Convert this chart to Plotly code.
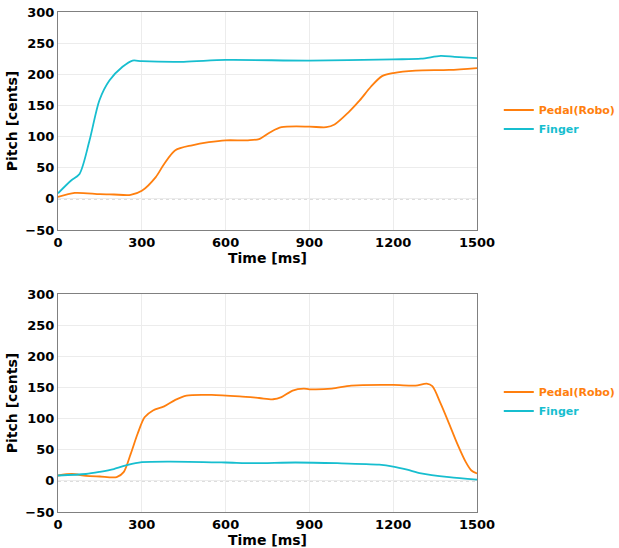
import plotly.graph_objects as go

ORANGE = "#ff7f0e"
CYAN = "#17becf"

# Top panel
top_pedal_t = [0, 60, 150, 200, 260, 300, 350, 380, 420, 480, 540, 600, 680, 720, 760, 800, 900, 960, 990, 1040, 1080, 1120, 1160, 1200, 1280, 1400, 1500]
top_pedal_v = [3, 9.6, 7.5, 7, 6.4, 13, 35, 56, 78, 86, 91, 94, 94, 96, 107, 115, 116, 115, 119.5, 139, 158, 180, 197, 202, 206, 207, 210]
top_finger_t = [0, 47, 77, 113, 148, 184, 231, 267, 300, 450, 600, 900, 1200, 1300, 1370, 1420, 1500]
top_finger_v = [9, 29.5, 40, 94, 158, 190, 212, 222, 221, 220, 223, 222, 224, 225, 229.5, 228, 226]

# Bottom panel
bot_pedal_t = [0, 50, 100, 150, 210, 235, 260, 285, 310, 340, 380, 420, 460, 550, 650, 720, 770, 800, 840, 880, 900, 980, 1050, 1200, 1280, 1320, 1340, 1370, 1400, 1430, 1460, 1480, 1500]
bot_pedal_v = [8.6, 11, 8, 7, 6, 14, 43, 75.6, 102, 113, 119.5, 130, 137, 138, 135.6, 133, 131, 134.5, 145, 148, 147, 148, 153, 154, 153, 156, 152, 124, 92, 59, 30, 16.6, 12]
bot_finger_t = [0, 100, 150, 200, 250, 300, 400, 600, 700, 850, 1000, 1150, 1200, 1250, 1300, 1400, 1500]
bot_finger_v = [8.6, 11, 14.5, 19, 25.7, 30, 31, 29.5, 28.4, 29.5, 28.4, 26, 23, 18, 12, 6, 2]

x_ticks = [0, 300, 600, 900, 1200, 1500]
y_ticks = [-50, 0, 50, 100, 150, 200, 250, 300]

FONT = "DejaVu Sans"

fig = go.Figure()


def label(name, color):
    return f"<span style='color:{color}'><b>{name}</b></span>"


panels = [
    ("x", "y", "legend", top_pedal_t, top_pedal_v, top_finger_t, top_finger_v),
    ("x2", "y2", "legend2", bot_pedal_t, bot_pedal_v, bot_finger_t, bot_finger_v),
]
for xa, ya, lg, pt, pv, ft, fv in panels:
    fig.add_trace(go.Scatter(x=pt, y=pv, mode="lines", name=label("Pedal(Robo)", ORANGE),
                             line=dict(color=ORANGE, width=1.8, shape="spline", smoothing=0.8),
                             xaxis=xa, yaxis=ya, legend=lg))
    fig.add_trace(go.Scatter(x=ft, y=fv, mode="lines", name=label("Finger", CYAN),
                             line=dict(color=CYAN, width=1.8, shape="spline", smoothing=0.8),
                             xaxis=xa, yaxis=ya, legend=lg))
    fig.add_shape(type="line", xref=f"{xa} domain", yref=ya, x0=0, x1=1, y0=0, y1=0,
                  line=dict(color="#a0a0a0", width=1, dash="dot"), layer="below")

axis_common = dict(showline=True, linecolor="#808080", linewidth=1.2, mirror=True,
                   showgrid=True, gridcolor="#ececec", gridwidth=1, zeroline=False,
                   automargin=False,
                   ticks="", tickfont=dict(family=FONT, size=13, color="black", weight="bold"))

xcommon = dict(axis_common, range=[0, 1500], tickvals=x_ticks,
               title=dict(text="<b>Time [ms]</b>", font=dict(family=FONT, size=14, color="black"), standoff=2))
ycommon = dict(axis_common, range=[-50, 300], tickvals=y_ticks,
               title=dict(text="<b>Pitch [cents]</b>", font=dict(family=FONT, size=14, color="black"), standoff=4))

top_dom = [0.564, 1.0]
bot_dom = [0.0, 0.436]

legend_common = dict(font=dict(family=FONT, size=11), bgcolor="rgba(0,0,0,0)",
                     xanchor="left", yanchor="middle", itemwidth=30, tracegroupgap=0)

fig.update_layout(
    width=619, height=548,
    margin=dict(l=58, r=142, t=12, b=36, autoexpand=False),
    paper_bgcolor="white", plot_bgcolor="white",
    xaxis=dict(xcommon, domain=[0, 1], anchor="y"),
    yaxis=dict(ycommon, domain=top_dom, anchor="x"),
    xaxis2=dict(xcommon, domain=[0, 1], anchor="y2"),
    yaxis2=dict(ycommon, domain=bot_dom, anchor="x2"),
    legend=dict(legend_common, x=1.052, y=0.785),
    legend2=dict(legend_common, x=1.052, y=0.221),
    showlegend=True,
)

fig.write_html("out.html", config={"displayModeBar": False},
               post_script="document.body.style.margin='0';document.body.style.padding='0';")
